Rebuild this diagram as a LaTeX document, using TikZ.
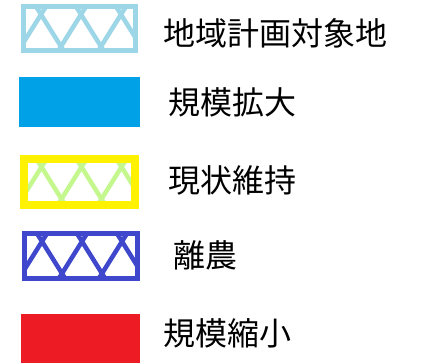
\documentclass[tikz,border=0pt]{standalone}
\usepackage{fontspec}
\newfontfamily\jpfont{Noto Sans CJK JP}
\definecolor{planblue}{HTML}{9DD6E6}
\definecolor{growblue}{HTML}{00A1E6}
\definecolor{keepyellow}{HTML}{FFF200}
\definecolor{keepgreen}{HTML}{C4F78E}
\definecolor{quitblue}{HTML}{3F48CC}
\definecolor{shrinkred}{HTML}{ED1C24}
\begin{document}
\begin{tikzpicture}[x=1pt,y=-1pt,
    legend/.style={anchor=west,inner sep=0pt,font=\jpfont\fontsize{32}{32}\selectfont},
    keybox/.style={inner sep=0pt,line width=5pt,fill=white},
    lattice/.style={path picture={
      \foreach \k in {-1,...,3} {
        \draw[#1,line width=4.5pt]
          ([shift={(\k*40+4.4,-13)}]path picture bounding box.north west) -- ++(40,64);
        \draw[#1,line width=4.5pt]
          ([shift={(\k*40+30.6,-13)}]path picture bounding box.north west) -- ++(-40,64);
      }}}]
  \useasboundingbox (0,0) rectangle (431,364);
  % legend keys
  \node[keybox,draw=planblue,lattice=planblue,minimum width=112pt,minimum height=44pt] (plan) at (79.5,28.5) {};
  \node[inner sep=0pt,fill=growblue,minimum width=121pt,minimum height=50pt] (grow) at (79.7,102) {};
  \node[keybox,draw=keepyellow,line width=8pt,lattice=keepgreen,minimum width=111pt,minimum height=46pt] (keep) at (79.5,182) {};
  \node[keybox,draw=quitblue,lattice=quitblue,minimum width=113pt,minimum height=45pt] (quit) at (81,256) {};
  \node[inner sep=0pt,fill=shrinkred,minimum width=119pt,minimum height=49pt] (shrink) at (80.3,338) {};
  % legend texts
  \node[legend] (plantext) at (163,33) {地域計画対象地};
  \node[legend] (growtext) at (168,102) {規模拡大};
  \node[legend] (keeptext) at (168,180) {現状維持};
  \node[legend] (quittext) at (173,255) {離農};
  \node[legend] (shrinktext) at (163,333) {規模縮小};
\end{tikzpicture}
\end{document}
